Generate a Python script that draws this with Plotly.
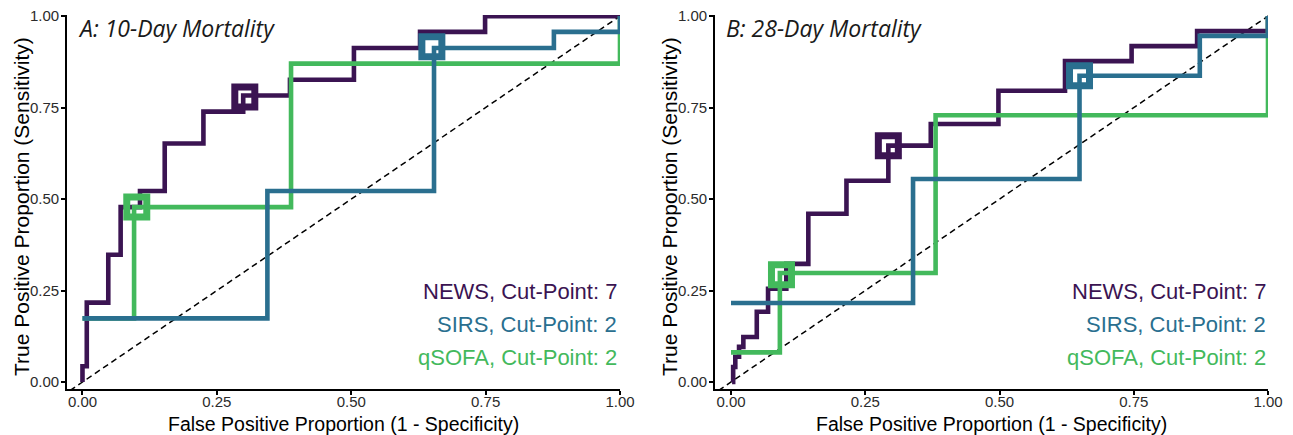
import plotly.graph_objects as go

W, H = 1293, 435

# ---------------- data ----------------
# Panel A: 10-day mortality  (step-curve corner points, connected horizontal-then-vertical)
a_news_fpr = [0.0, 0.0, 0.008, 0.048, 0.071, 0.107, 0.153, 0.225, 0.299, 0.386, 0.505, 0.628, 0.749, 1.0]
a_news_tpr = [0.0, 0.043, 0.217, 0.348, 0.478, 0.522, 0.652, 0.739, 0.783, 0.826, 0.913, 0.957, 1.0, 1.0]
a_sirs_fpr = [0.0, 0.344, 0.654, 0.877, 1.0]
a_sirs_tpr = [0.174, 0.522, 0.913, 0.957, 1.0]
a_qsofa_fpr = [0.0, 0.096, 0.388, 1.0]
a_qsofa_tpr = [0.174, 0.478, 0.870, 1.0]
# cut-point markers panel A: NEWS, SIRS, qSOFA
a_cut_fpr = [0.302, 0.650, 0.101]
a_cut_tpr = [0.779, 0.916, 0.478]

# Panel B: 28-day mortality
b_news_fpr = [0.002, 0.004, 0.008, 0.015, 0.023, 0.048, 0.069, 0.103, 0.144, 0.215, 0.293, 0.372, 0.498, 0.622, 0.746, 0.868, 1.0]
b_news_tpr = [0.0, 0.041, 0.069, 0.096, 0.123, 0.192, 0.255, 0.323, 0.460, 0.550, 0.646, 0.705, 0.796, 0.877, 0.918, 0.959, 1.0]
b_sirs_fpr = [0.0, 0.339, 0.649, 0.873, 1.0]
b_sirs_tpr = [0.216, 0.555, 0.837, 0.946, 1.0]
b_qsofa_fpr = [0.0, 0.091, 0.381, 1.0]
b_qsofa_tpr = [0.081, 0.298, 0.729, 1.0]
b_cut_fpr = [0.293, 0.649, 0.094]
b_cut_tpr = [0.646, 0.837, 0.293]

series_names = ["NEWS", "SIRS", "qSOFA"]
cut_points = [7, 2, 2]
panel_titles = ["A: 10-Day Mortality", "B: 28-Day Mortality"]
tick_vals = [0, 0.25, 0.5, 0.75, 1.0]
tick_text = ["0.00", "0.25", "0.50", "0.75", "1.00"]
x_title = "False Positive Proportion (1 - Specificity)"
y_title = "True Positive Proportion (Sensitivity)"

# ---------------- styling ----------------
colors = {"NEWS": "#3b1452", "SIRS": "#2a6f8f", "qSOFA": "#43b95c"}
LW = 4.6
FONT = "Liberation Sans, Arial, sans-serif"

fig = go.Figure()

panels = [
    dict(xa="x", ya="y",
         curves=[("NEWS", a_news_fpr, a_news_tpr), ("qSOFA", a_qsofa_fpr, a_qsofa_tpr), ("SIRS", a_sirs_fpr, a_sirs_tpr)],
         cut=(a_cut_fpr, a_cut_tpr)),
    dict(xa="x2", ya="y2",
         curves=[("NEWS", b_news_fpr, b_news_tpr), ("qSOFA", b_qsofa_fpr, b_qsofa_tpr), ("SIRS", b_sirs_fpr, b_sirs_tpr)],
         cut=(b_cut_fpr, b_cut_tpr)),
]

for p in panels:
    # diagonal reference line
    fig.add_trace(go.Scatter(x=[-0.1, 1.1], y=[-0.1, 1.1], mode="lines",
                             line=dict(color="black", width=1.5, dash="6px,4px"),
                             xaxis=p["xa"], yaxis=p["ya"], showlegend=False, hoverinfo="skip"))
    for name, fx, fy in p["curves"]:
        fig.add_trace(go.Scatter(x=fx, y=fy, mode="lines", line=dict(color=colors[name], width=LW, shape="hv"),
                                 xaxis=p["xa"], yaxis=p["ya"], showlegend=False, name=name))
    cx, cy = p["cut"]
    for i, name in enumerate(series_names):
        fig.add_trace(go.Scatter(x=[cx[i]], y=[cy[i]], mode="markers",
                                 marker=dict(symbol="square-open", size=20, color=colors[name],
                                             line=dict(width=7, color=colors[name])),
                                 xaxis=p["xa"], yaxis=p["ya"], showlegend=False))

# layout geometry (pixels)
xA = (67, 620)
xB = (715, 1268)
y_top, y_bot = 15, 389
ydom = [(H - y_bot) / H, (H - y_top) / H]

axis_common = dict(showgrid=False, zeroline=False, showline=True, linecolor="black", linewidth=1.8,
                   ticks="outside", ticklen=4, tickwidth=1.6, tickcolor="black", automargin=False,
                   tickvals=tick_vals, ticktext=tick_text,
                   tickfont=dict(family=FONT, size=15, color="#2b2b2b"), mirror=False)
x_axis_extra = dict(ticklabelstandoff=-6)
y_axis_extra = dict(ticklabelstandoff=-1)

fig.update_layout(
    template="none",
    width=W, height=H, autosize=False,
    margin=dict(l=0, r=0, t=0, b=0, pad=0),
    paper_bgcolor="white", plot_bgcolor="white",
    xaxis=dict(domain=[xA[0] / W, xA[1] / W], range=[-0.0288, 1.0], anchor="y", **axis_common, **x_axis_extra),
    yaxis=dict(domain=ydom, range=[-0.019, 1.003], anchor="x", **axis_common, **y_axis_extra),
    xaxis2=dict(domain=[xB[0] / W, xB[1] / W], range=[-0.0298, 1.0], anchor="y2", **axis_common, **x_axis_extra),
    yaxis2=dict(domain=ydom, range=[-0.019, 1.003], anchor="x2", **axis_common, **y_axis_extra),
)

ann = []
def px(x): return x / W
def py(y): return 1 - y / H

for (x0, x1), title, legx in [(xA, panel_titles[0], 619), (xB, panel_titles[1], 1268)]:
    # panel title (italic)
    ann.append(dict(text=title, x=px(x0 + 9), y=py(28), xref="paper", yref="paper",
                    xanchor="left", yanchor="middle", showarrow=False,
                    font=dict(family="Open Sans, sans-serif", size=23, color="#1a1a1a", style="italic")))
    # x-axis title
    ann.append(dict(text=x_title, x=px((x0 + x1) / 2), y=py(424), xref="paper", yref="paper",
                    xanchor="center", yanchor="middle", showarrow=False,
                    font=dict(family=FONT, size=19.5, color="black")))
    # y-axis title
    ann.append(dict(text=y_title, x=px(x0 - 46), y=py(207), xref="paper", yref="paper",
                    xanchor="center", yanchor="middle", showarrow=False, textangle=-90,
                    font=dict(family=FONT, size=21, color="black")))
    # legend text
    for i, (name, cp) in enumerate(zip(series_names, cut_points)):
        ann.append(dict(text=f"{name}, Cut-Point: {cp}", x=px(legx), y=py([291, 324, 357][i]),
                        xref="paper", yref="paper", xanchor="right", yanchor="middle", showarrow=False,
                        font=dict(family=FONT, size=22, color=colors[name])))

fig.update_layout(annotations=ann)
fig.write_html("out.html",
               post_script="document.documentElement.style.margin='0';document.body.style.margin='0';"
                           "document.body.style.overflow='hidden';document.documentElement.style.overflow='hidden';")
